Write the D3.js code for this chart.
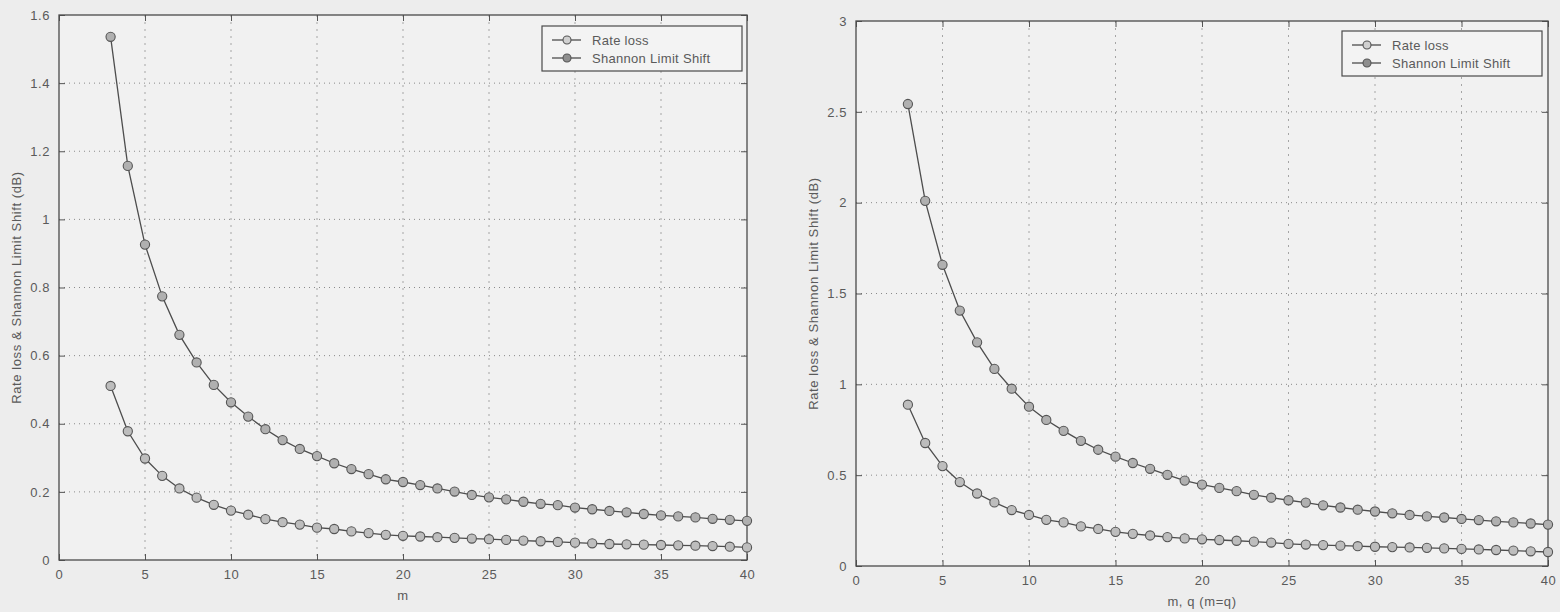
<!DOCTYPE html>
<html>
<head>
<meta charset="utf-8">
<script src="https://cdn.jsdelivr.net/npm/d3@7"></script>
<style>
  html, body { margin: 0; padding: 0; background: #ededed; }
  svg { display: block; }
  text { font-family: "Liberation Sans", Arial, sans-serif; fill: #5a5a5a; }
</style>
</head>
<body>
<div id="chart"></div>
<script>
// m values (3..40)
const mValues = d3.range(3, 41);

// left panel: m
const leftRateLoss = [0.511, 0.378, 0.298, 0.247, 0.210, 0.183, 0.162, 0.145, 0.133, 0.120,
  0.111, 0.104, 0.095, 0.091, 0.084, 0.079, 0.074, 0.071, 0.069, 0.067,
  0.065, 0.063, 0.061, 0.059, 0.057, 0.055, 0.053, 0.051, 0.049, 0.047,
  0.046, 0.045, 0.044, 0.043, 0.042, 0.041, 0.039, 0.037];
const leftShannon = [1.536, 1.157, 0.926, 0.774, 0.661, 0.580, 0.514, 0.463, 0.421, 0.384,
  0.352, 0.326, 0.305, 0.284, 0.267, 0.252, 0.237, 0.229, 0.220, 0.210,
  0.201, 0.191, 0.184, 0.178, 0.171, 0.165, 0.161, 0.154, 0.149, 0.144,
  0.140, 0.135, 0.131, 0.128, 0.125, 0.121, 0.118, 0.115];

// right panel: m, q (m=q)
const rightRateLoss = [0.888, 0.677, 0.550, 0.462, 0.399, 0.350, 0.308, 0.281, 0.254, 0.240,
  0.218, 0.204, 0.188, 0.177, 0.168, 0.159, 0.152, 0.147, 0.143, 0.139,
  0.134, 0.129, 0.122, 0.118, 0.115, 0.112, 0.109, 0.106, 0.104, 0.102,
  0.100, 0.097, 0.094, 0.091, 0.088, 0.085, 0.081, 0.077];
const rightShannon = [2.543, 2.010, 1.658, 1.406, 1.231, 1.085, 0.976, 0.877, 0.804, 0.744,
  0.689, 0.640, 0.602, 0.567, 0.535, 0.502, 0.470, 0.448, 0.430, 0.412,
  0.392, 0.376, 0.362, 0.349, 0.334, 0.322, 0.310, 0.300, 0.290, 0.281,
  0.273, 0.267, 0.259, 0.253, 0.246, 0.240, 0.234, 0.228];

const xTicks = [0, 5, 10, 15, 20, 25, 30, 35, 40];
const leftYTicks = [0, 0.2, 0.4, 0.6, 0.8, 1, 1.2, 1.4, 1.6];
const rightYTicks = [0, 0.5, 1, 1.5, 2, 2.5, 3];
const legendLabels = ['Rate loss', 'Shannon Limit Shift'];
const yLabel = 'Rate loss & Shannon Limit Shift (dB)';

const W = 1560, H = 612;
const svg = d3.select('#chart').append('svg').attr('width', W).attr('height', H);

const drawPanel = (p) => {
  const x = d3.scaleLinear().domain([0, 40]).range([p.left, p.right]);
  const y = d3.scaleLinear().domain([0, p.yMax]).range([p.bottom, p.top]);
  const g = svg.append('g');

  g.append('rect')
    .attr('x', p.left).attr('y', p.top)
    .attr('width', p.right - p.left).attr('height', p.bottom - p.top)
    .attr('fill', '#f1f1f1');

  // grid
  g.selectAll('.hgrid')
    .data(p.yTicks.slice(1, -1))
    .join('line')
    .attr('x1', p.left).attr('x2', p.right)
    .attr('y1', (d) => y(d)).attr('y2', (d) => y(d))
    .attr('stroke', '#8a8a8a').attr('stroke-width', 1).attr('stroke-dasharray', '1,4');
  g.selectAll('.vgrid')
    .data(xTicks.slice(1, -1))
    .join('line')
    .attr('x1', (d) => x(d)).attr('x2', (d) => x(d))
    .attr('y1', p.top).attr('y2', p.bottom)
    .attr('stroke', '#a5a5a5').attr('stroke-width', 1).attr('stroke-dasharray', '2,5');

  // axes, ticks inside on all sides
  const tl = 6;
  g.append('g')
    .attr('transform', `translate(0,${p.bottom})`)
    .call(d3.axisBottom(x).tickValues(xTicks).tickSize(-tl).tickPadding(10).tickFormat(d3.format('d')))
    .call((a) => a.select('.domain').remove())
    .call((a) => a.selectAll('text').attr('font-size', 13).attr('letter-spacing', 0.6));
  g.append('g')
    .attr('transform', `translate(0,${p.top})`)
    .call(d3.axisTop(x).tickValues(xTicks).tickSize(-tl).tickFormat(''))
    .call((a) => a.select('.domain').remove());
  g.append('g')
    .attr('transform', `translate(${p.left},0)`)
    .call(d3.axisLeft(y).tickValues(p.yTicks).tickSize(-tl).tickPadding(9).tickFormat((d) => String(d)))
    .call((a) => a.select('.domain').remove())
    .call((a) => a.selectAll('text').attr('font-size', 13).attr('letter-spacing', 0.6));
  g.append('g')
    .attr('transform', `translate(${p.right},0)`)
    .call(d3.axisRight(y).tickValues(p.yTicks).tickSize(-tl).tickFormat(''))
    .call((a) => a.select('.domain').remove());
  g.selectAll('.tick line').attr('stroke', '#555');

  g.append('rect')
    .attr('x', p.left).attr('y', p.top)
    .attr('width', p.right - p.left).attr('height', p.bottom - p.top)
    .attr('fill', 'none').attr('stroke', '#4a4a4a').attr('stroke-width', 1.3);

  // series
  const line = d3.line().x((d) => x(d[0])).y((d) => y(d[1])).curve(d3.curveLinear);
  p.series.forEach((s, i) => {
    const pts = mValues.map((m, j) => [m, s[j]]);
    g.append('path').datum(pts)
      .attr('d', line).attr('fill', 'none')
      .attr('stroke', '#4d4d4d').attr('stroke-width', 1.3);
    g.selectAll(`.mk${i}`)
      .data(pts)
      .join('circle')
      .attr('cx', (d) => x(d[0])).attr('cy', (d) => y(d[1]))
      .attr('r', 4.6)
      .attr('fill', i === 0 ? '#bdbdbd' : '#b0b0b0')
      .attr('stroke', '#555').attr('stroke-width', 1.1);
  });

  // legend
  const lg = g.append('g').attr('transform', `translate(${p.legend[0]},${p.legend[1]})`);
  lg.append('rect')
    .attr('width', 200).attr('height', 45)
    .attr('fill', '#f3f3f3').attr('stroke', '#4a4a4a').attr('stroke-width', 1.2);
  legendLabels.forEach((lab, i) => {
    const yy = 14 + i * 18;
    lg.append('line').attr('x1', 10).attr('x2', 39).attr('y1', yy).attr('y2', yy)
      .attr('stroke', '#4d4d4d').attr('stroke-width', 1.3);
    lg.append('circle').attr('cx', 25).attr('cy', yy).attr('r', 4)
      .attr('fill', i === 0 ? '#d0d0d0' : '#8f8f8f').attr('stroke', '#555').attr('stroke-width', 1.1);
    lg.append('text').attr('x', 50).attr('y', yy + 5)
      .attr('font-size', 13).attr('letter-spacing', 0.3).text(lab);
  });

  // labels
  g.append('text')
    .attr('transform', `translate(${p.left - 38},${(p.top + p.bottom) / 2}) rotate(-90)`)
    .attr('text-anchor', 'middle').attr('font-size', 13).attr('letter-spacing', 0.6)
    .text(yLabel);
  g.append('text')
    .attr('x', (p.left + p.right) / 2).attr('y', p.bottom + 40)
    .attr('text-anchor', 'middle').attr('font-size', 13).attr('letter-spacing', 0.6)
    .text(p.xLabel);
};

drawPanel({
  left: 59, right: 747, top: 15, bottom: 560, yMax: 1.6, yTicks: leftYTicks,
  series: [leftRateLoss, leftShannon], legend: [542, 26], xLabel: 'm'
});
drawPanel({
  left: 856, right: 1548, top: 21, bottom: 566, yMax: 3, yTicks: rightYTicks,
  series: [rightRateLoss, rightShannon], legend: [1342, 31], xLabel: 'm, q (m=q)'
});
</script>
</body>
</html>
